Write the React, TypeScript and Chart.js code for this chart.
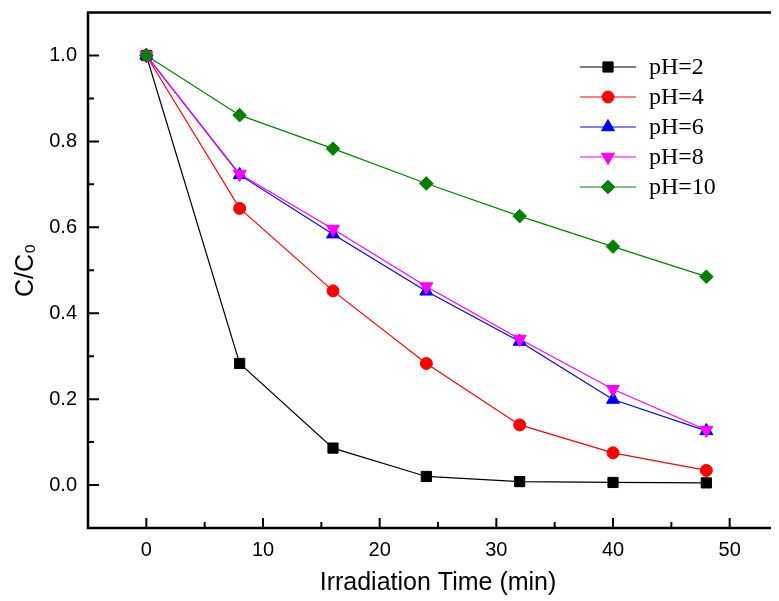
import React, { useEffect, useRef } from "react";
import { Chart, registerables } from "chart.js";
import { drawPoint } from "chart.js/helpers";

Chart.register(...registerables);

const times = [0, 8, 16, 24, 32, 40, 48];
const pH2 = [1.0, 0.283, 0.086, 0.02, 0.008, 0.006, 0.005];
const pH4 = [1.0, 0.644, 0.452, 0.283, 0.14, 0.075, 0.034];
const pH6 = [1.0, 0.722, 0.584, 0.451, 0.334, 0.199, 0.126];
const pH8 = [1.0, 0.724, 0.596, 0.462, 0.34, 0.223, 0.128];
const pH10 = [1.0, 0.861, 0.783, 0.702, 0.626, 0.555, 0.485];

const seriesLabels = ["pH=2", "pH=4", "pH=6", "pH=8", "pH=10"];
const seriesValues = [pH2, pH4, pH6, pH8, pH10];
const seriesColors = ["#000000", "#ff0000", "#0000ff", "#ff00ff", "#008000"];
const seriesStyles = ["rect", "circle", "triangle", "triangle", "rectRot"];
const seriesRotation = [0, 0, 0, 180, 0];
const seriesRadius = [7.2, 6, 7.5, 7.5, 6.8];
const seriesOrder = [4, 3, 2, 1, 0];

const xTicks = [0, 10, 20, 30, 40, 50];
const yTicks = [0, 0.2, 0.4, 0.6, 0.8, 1.0];
const xRange = [-5, 55];
const yRange = [-0.1, 1.1];

const framePlugin = {
  id: "frameTicksLegend",
  afterDraw(chart: any) {
    const { ctx, chartArea: a, scales } = chart;
    const xs = scales.x;
    const ys = scales.y;
    ctx.save();
    ctx.strokeStyle = "#000";
    ctx.lineWidth = 2;
    ctx.beginPath();
    xTicks.forEach((v) => {
      const px = xs.getPixelForValue(v);
      ctx.moveTo(px, a.bottom);
      ctx.lineTo(px, a.bottom - 10);
      const mid = v + (xTicks[1] - xTicks[0]) / 2;
      if (mid < xRange[1]) {
        const pm = xs.getPixelForValue(mid);
        ctx.moveTo(pm, a.bottom);
        ctx.lineTo(pm, a.bottom - 6);
      }
    });
    yTicks.forEach((v) => {
      const py = ys.getPixelForValue(v);
      ctx.moveTo(a.left, py);
      ctx.lineTo(a.left + 11, py);
      const mid = v + (yTicks[1] - yTicks[0]) / 2;
      if (mid < yRange[1] - 1e-9) {
        const pm = ys.getPixelForValue(mid);
        ctx.moveTo(a.left, pm);
        ctx.lineTo(a.left + 6, pm);
      }
    });
    ctx.stroke();
    ctx.lineWidth = 2.5;
    const xr = xs.getPixelForValue(xRange[1]);
    const yt = ys.getPixelForValue(yRange[1]);
    const xl = xs.getPixelForValue(xRange[0]);
    const yb = ys.getPixelForValue(yRange[0]);
    ctx.beginPath();
    ctx.moveTo(xr + 2, yt);
    ctx.lineTo(xl, yt);
    ctx.lineTo(xl, yb);
    ctx.lineTo(xr + 2, yb);
    ctx.stroke();

    const lx0 = 572;
    const lx1 = 628;
    const mx = 600;
    const tx = 641;
    const y0 = 63;
    const dy = 30;
    ctx.font = '24px "Liberation Serif", "Times New Roman", serif';
    ctx.textBaseline = "middle";
    ctx.textAlign = "left";
    seriesLabels.forEach((lab, i) => {
      const y = y0 + i * dy;
      ctx.strokeStyle = seriesColors[i];
      ctx.lineWidth = 1.2;
      ctx.beginPath();
      ctx.moveTo(lx0, y);
      ctx.lineTo(lx1, y);
      ctx.stroke();
      ctx.fillStyle = seriesColors[i];
      ctx.lineWidth = 1;
      drawPoint(ctx, { pointStyle: seriesStyles[i], radius: seriesRadius[i], rotation: seriesRotation[i], borderWidth: 1 } as any, mx, y);
      ctx.fillStyle = "#000";
      ctx.fillText(lab, tx, y + 1);
    });
    ctx.restore();
  },
};

export default function App() {
  const ref = useRef<HTMLCanvasElement | null>(null);
  useEffect(() => {
    document.documentElement.style.overflow = "hidden";
    document.body.style.overflow = "hidden";
    const canvas = ref.current!;
    const chart = new Chart(canvas, {
      type: "line",
      data: {
        datasets: seriesLabels.map((lab, i) => ({
          label: lab,
          data: times.map((t, j) => ({ x: t, y: seriesValues[i][j] })),
          borderColor: seriesColors[i],
          backgroundColor: seriesColors[i],
          pointBackgroundColor: seriesColors[i],
          pointBorderColor: seriesColors[i],
          pointBorderWidth: 1,
          pointStyle: seriesStyles[i] as any,
          pointRotation: seriesRotation[i],
          pointRadius: seriesRadius[i],
          borderWidth: 1.2,
          order: seriesOrder[i],
          tension: 0,
          fill: false,
        })),
      },
      options: {
        animation: false,
        responsive: false,
        events: [],
        layout: { padding: { left: 0, top: 0, right: 20, bottom: 0 } },
        plugins: { legend: { display: false }, tooltip: { enabled: false } },
        scales: {
          x: {
            type: "linear",
            min: xRange[0],
            max: xRange[1],
            afterBuildTicks: (s: any) => {
              s.ticks = xTicks.map((v) => ({ value: v }));
            },
            afterFit: (s: any) => {
              s.height = 73;
              s.paddingLeft = 0;
              s.paddingRight = 0;
            },
            grid: { display: false, drawTicks: false },
            border: { display: false },
            ticks: {
              padding: 10,
              color: "#000",
              font: { family: '"Liberation Sans", Arial, sans-serif', size: 20 },
              maxRotation: 0,
              autoSkip: false,
            },
            title: {
              display: true,
              text: "Irradiation Time (min)",
              color: "#000",
              font: { family: '"Liberation Sans", Arial, sans-serif', size: 25 },
              padding: { top: 0, bottom: 3 },
            },
          },
          y: {
            type: "linear",
            min: yRange[0],
            max: yRange[1],
            afterBuildTicks: (s: any) => {
              s.ticks = yTicks.map((v) => ({ value: v }));
            },
            afterFit: (s: any) => {
              s.width = 80;
              s.paddingTop = 0;
              s.paddingBottom = 0;
            },
            grid: { display: false, drawTicks: false },
            border: { display: false },
            ticks: {
              padding: 11,
              color: "#000",
              font: { family: '"Liberation Sans", Arial, sans-serif', size: 20 },
              callback: (v: any) => Number(v).toFixed(1),
              autoSkip: false,
            },
            title: {
              display: true,
              text: "C/C₀",
              color: "#000",
              font: { family: '"Liberation Sans", Arial, sans-serif', size: 25 },
              padding: { top: 3, bottom: 0 },
            },
          },
        },
      },
      plugins: [framePlugin],
    });
    return () => chart.destroy();
  }, []);
  return (
    <div style={{ width: 771, height: 593, overflow: "hidden", position: "relative" }}>
      <canvas
        ref={ref}
        width={800}
        height={597}
        style={{ width: 800, height: 597, display: "block", marginTop: -4 }}
      />
    </div>
  );
}
